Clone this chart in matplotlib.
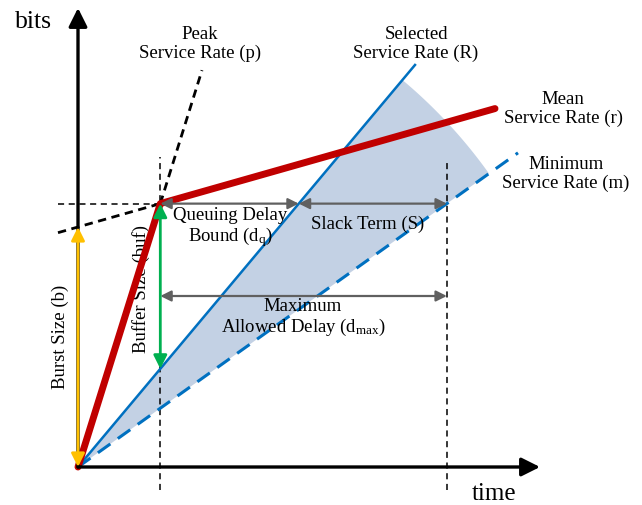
import numpy as np
import matplotlib
matplotlib.use("Agg")
import matplotlib.pyplot as plt
from matplotlib.patches import Polygon

plt.rcParams['font.family'] = ['Liberation Serif', 'DejaVu Serif']
plt.rcParams['mathtext.fontset'] = 'custom'
plt.rcParams['mathtext.rm'] = 'Liberation Serif'
plt.rcParams['mathtext.it'] = 'Liberation Serif:italic'

# token bucket / service curve parameters (units: time, bits)
burst_b = 240.0        # burst size b
peak_p = 3.2           # peak rate p
mean_r = 0.284         # mean rate r
selected_R = 1.193     # selected service rate R
minimum_m = 0.714      # minimum service rate m

t_axis_end = 462
bits_axis_end = 459
t_mean_end = 417
t_R_end = 337
t_m_end = 440
t_peak_end = 124
t_mean_dash_start = -20
shade_radius = 505
dmax_arrow_bits = 171

# derived points
t_knee = burst_b / (peak_p - mean_r)
bits_knee = peak_p * t_knee
t_R_cross = bits_knee / selected_R
t_dmax = bits_knee / minimum_m

RED = '#C00000'
BLUE = '#0070C0'
SHADE = '#C3D1E4'
YELLOW = '#FFC000'
GREEN = '#00B050'
GRAY = '#606060'

fig = plt.figure(figsize=(6.42, 5.05), dpi=100)
ax = fig.add_axes([0, 0, 1, 1])
ax.set_xlim(-78, 564)
ax.set_ylim(-38, 467)
ax.axis('off')

# shaded feasible region between R and m
th_R = np.arctan(selected_R)
th_m = np.arctan(minimum_m)
arc = np.linspace(th_R, th_m, 60)
pts = [(0, 0)] + [(shade_radius * np.cos(a), shade_radius * np.sin(a)) for a in arc]
ax.add_patch(Polygon(pts, closed=True, facecolor=SHADE, edgecolor='none', zorder=1))

# dashed guide lines
ax.plot([t_knee, t_knee], [-23, 310], color='black', ls=(0, (4, 3)), lw=1.1, zorder=2)
ax.plot([t_dmax, t_dmax], [-23, 307], color='black', ls=(0, (4, 3)), lw=1.1, zorder=2)
ax.plot([-20, t_knee], [bits_knee, bits_knee], color='black', ls=(0, (4, 3)), lw=1.1, zorder=2)
ax.plot([t_mean_dash_start, t_knee],
        [burst_b + mean_r * t_mean_dash_start, bits_knee],
        color='black', ls=(0, (3, 2)), lw=2, zorder=2)
ax.plot([t_knee, t_peak_end], [bits_knee, peak_p * t_peak_end],
        color='black', ls=(0, (3, 2)), lw=2, zorder=2)

# service rate lines
ax.plot([0, t_R_end], [0, selected_R * t_R_end], color=BLUE, lw=1.8, zorder=3)
ax.plot([0, t_m_end], [0, minimum_m * t_m_end], color=BLUE, lw=2.2,
        ls=(0, (5, 3)), zorder=3)

# arrival curve
ax.plot([0, t_knee, t_mean_end],
        [0, bits_knee, burst_b + mean_r * t_mean_end],
        color=RED, lw=5, solid_capstyle='round', solid_joinstyle='round', zorder=4)

# axes arrows
ax.annotate('', xy=(t_axis_end, 0), xytext=(0, 0),
            arrowprops=dict(arrowstyle='-|>', color='black', lw=2.4,
                            mutation_scale=28, shrinkA=0, shrinkB=0), zorder=5)
ax.annotate('', xy=(0, bits_axis_end), xytext=(0, 0),
            arrowprops=dict(arrowstyle='-|>', color='black', lw=2.4,
                            mutation_scale=28, shrinkA=0, shrinkB=0), zorder=5)


def dbl_arrow(p0, p1, color, lw=1.6, ms=16):
    ax.annotate('', xy=p1, xytext=p0,
                arrowprops=dict(arrowstyle='<|-|>', color=color, lw=lw,
                                mutation_scale=ms, shrinkA=0, shrinkB=0), zorder=6)


dbl_arrow((0, 0), (0, burst_b), YELLOW, lw=2, ms=20)
dbl_arrow((t_knee, bits_knee), (t_knee, selected_R * t_knee), GREEN, lw=2, ms=20)
dbl_arrow((t_knee, bits_knee), (t_R_cross, bits_knee), GRAY)
dbl_arrow((t_R_cross, bits_knee), (t_dmax, bits_knee), GRAY)
dbl_arrow((t_knee, dmax_arrow_bits), (t_dmax, dmax_arrow_bits), GRAY)

# labels
fs = 13.5
ls = 1.1
ax.text(-63, 445, 'bits', fontsize=18.5, ha='left', va='center')
ax.text(394, -27, 'time', fontsize=18, ha='left', va='center')
ax.text(122, 423, 'Peak\nService Rate (p)', fontsize=fs, ha='center', va='center',
        linespacing=ls)
ax.text(338, 423, 'Selected\nService Rate (R)', fontsize=fs, ha='center', va='center',
        linespacing=ls)
ax.text(485, 358, 'Mean\nService Rate (r)', fontsize=fs, ha='center', va='center',
        linespacing=ls)
ax.text(488, 293, 'Minimum\nService Rate (m)', fontsize=fs, ha='center', va='center',
        linespacing=ls)
ax.text(152, 239, 'Queuing Delay\nBound (d$_\\mathrm{q}$)', fontsize=fs, ha='center',
        va='center', linespacing=ls)
ax.text(290, 243, 'Slack Term (S)', fontsize=fs, ha='center', va='center')
ax.text(225, 149, 'Maximum\nAllowed Delay (d$_\\mathrm{max}$)', fontsize=fs,
        ha='center', va='center', linespacing=ls)
ax.text(-18, 130, 'Burst Size (b)', fontsize=fs, ha='center', va='center', rotation=90)
ax.text(63, 178, 'Buffer Size (buf)', fontsize=fs, ha='center', va='center', rotation=90)

fig.savefig('out.png', dpi=100)
